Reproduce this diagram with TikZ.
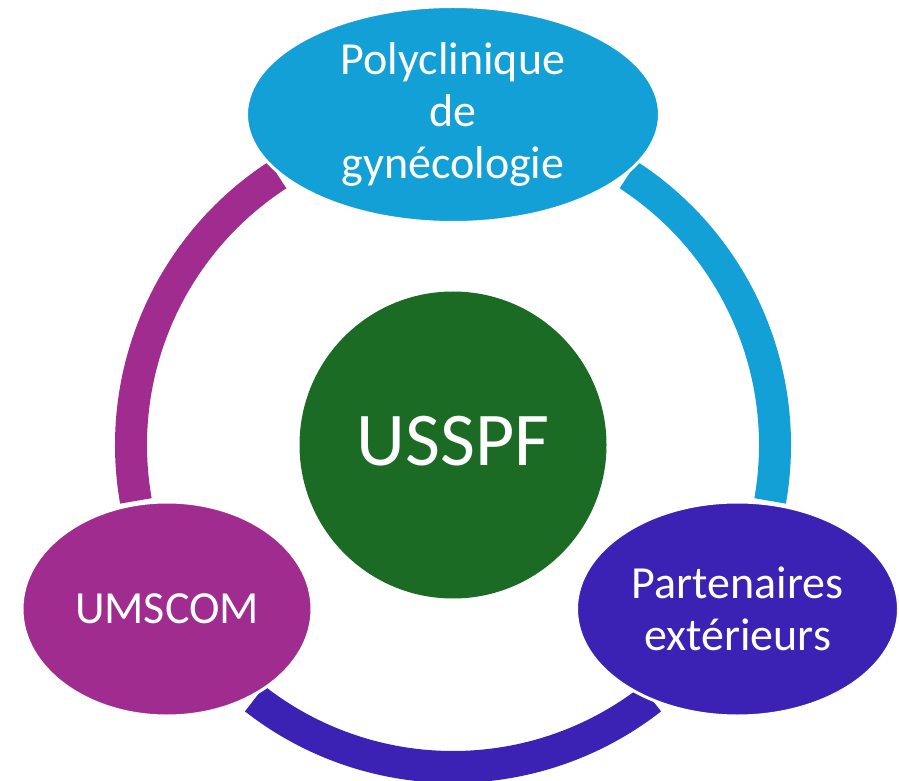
\documentclass[tikz,border=0pt]{standalone}
\usepackage{fontspec}
\setmainfont{Carlito}
\usetikzlibrary{shapes.geometric}
\definecolor{cgreen}{RGB}{27,107,37}
\definecolor{cblue}{RGB}{18,160,214}
\definecolor{cpurple}{RGB}{160,44,143}
\definecolor{cindigo}{RGB}{60,33,181}
\tikzset{
  ringarc/.style={line width=32pt},
  bubble/.style={ellipse, draw=white, line width=3pt, inner sep=0pt, text=white,
    align=center, font=\fontsize{46}{52}\selectfont},
}
\begin{document}
\begin{tikzpicture}[x=1pt,y=1pt]
\useasboundingbox (0,0) rectangle (899,780);
\coordinate (C) at (453,335);
% ring arcs
\draw[ringarc, cpurple] ([shift={(123:322)}]C) arc[start angle=123, end angle=190, radius=322];
\draw[ringarc, cindigo] ([shift={(232:322)}]C) arc[start angle=232, end angle=308, radius=322];
\draw[ringarc, cblue] ([shift={(-10:322)}]C) arc[start angle=-10, end angle=57, radius=322];
% centre
\node[circle, fill=cgreen, minimum size=307pt, inner sep=0pt] (hub) at (C) {};
\node[text=white, font=\fontsize{76}{90}\selectfont, anchor=base] (usspf) at (453,315) {USSPF};
% bubbles
\node[bubble, fill=cblue, minimum width=413pt, minimum height=216pt] (poly) at (453,665.5)
  {Polyclinique\\de\\gynécologie};
\node[bubble, fill=cpurple, minimum width=290pt, minimum height=214pt] (umscom) at (167,171)
  {UMSCOM};
\node[bubble, fill=cindigo, minimum width=322pt, minimum height=214pt] (part) at (737.5,171)
  {Partenaires\\extérieurs};
\end{tikzpicture}
\end{document}
